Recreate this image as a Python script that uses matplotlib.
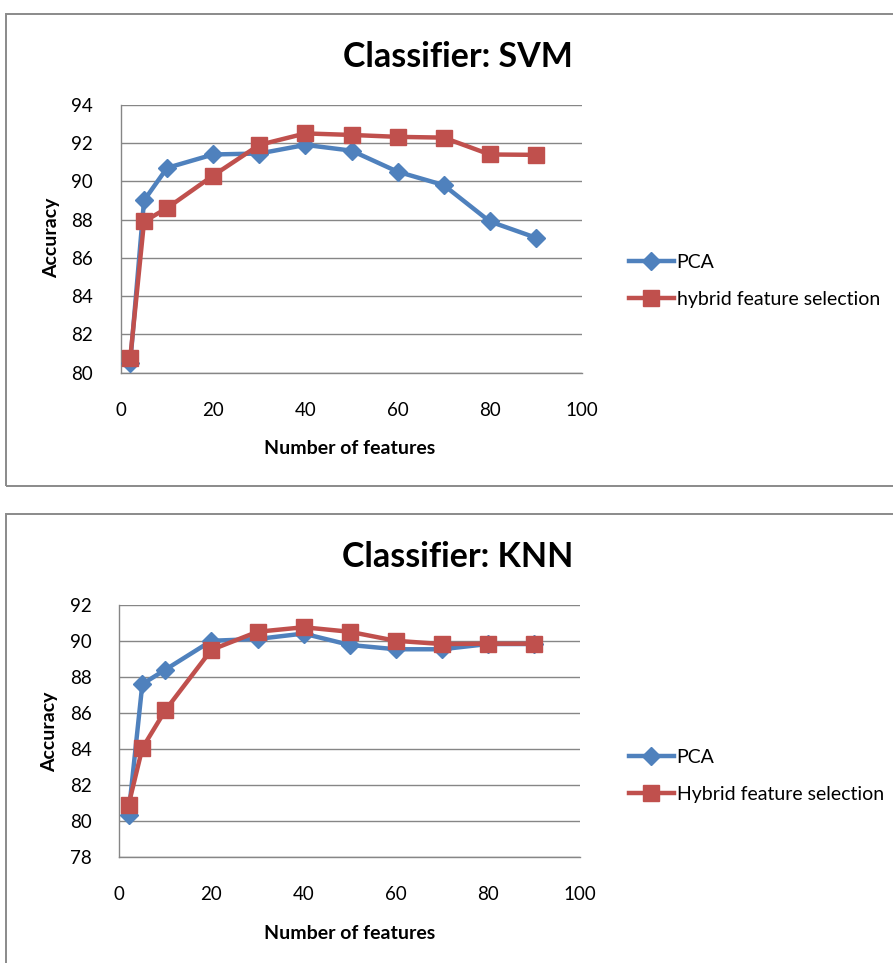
import numpy as np
import matplotlib
matplotlib.use("Agg")
import matplotlib.pyplot as plt
from matplotlib.patches import Rectangle

plt.rcParams['font.family'] = ['Lato', 'DejaVu Sans']

# ---- data ----
n_features = [2, 5, 10, 20, 30, 40, 50, 60, 70, 80, 90]

svm_pca = [80.5, 89.0, 90.7, 91.4, 91.45, 91.9, 91.6, 90.5, 89.8, 87.9, 87.05]
svm_hybrid = [80.75, 87.9, 88.6, 90.3, 91.9, 92.5, 92.42, 92.32, 92.28, 91.4, 91.38]

knn_pca = [80.35, 87.6, 88.4, 90.0, 90.1, 90.4, 89.77, 89.53, 89.53, 89.82, 89.82]
knn_hybrid = [80.9, 84.05, 86.15, 89.5, 90.5, 90.75, 90.5, 90.0, 89.82, 89.84, 89.84]

svm_yticks = [80, 82, 84, 86, 88, 90, 92, 94]
knn_yticks = [78, 80, 82, 84, 86, 88, 90, 92]
xticks = [0, 20, 40, 60, 80, 100]

BLUE = '#4F81BD'
RED = '#C0504D'
GRID = '#868686'

W, H = 893, 963
fig = plt.figure(figsize=(W / 100, H / 100), dpi=100)


def px_axes(left, top, right, bottom):
    # pixel box -> figure fraction
    return fig.add_axes([left / W, 1 - bottom / H, (right - left) / W, (bottom - top) / H])


def panel_frame(top, bottom):
    fig.patches.append(Rectangle((6 / W, 1 - bottom / H), 2.0, (bottom - top) / H,
                                 transform=fig.transFigure, fill=False,
                                 edgecolor='#8a8a8a', linewidth=1.4))


def draw_panel(ax, pca, hybrid, yticks, title, hyb_label, title_y, leg_y, xlab_y, ylab_x, ylab_y):
    ax.plot(n_features, pca, color=BLUE, lw=3.2, marker='D', ms=9, label='PCA', zorder=3)
    ax.plot(n_features, hybrid, color=RED, lw=3.2, marker='s', ms=11, label=hyb_label, zorder=4)
    ax.set_xlim(0, 100)
    ax.set_ylim(yticks[0], yticks[-1])
    ax.set_xticks(xticks)
    ax.set_yticks(yticks)
    ax.tick_params(length=0, labelsize=13.5, colors='black')
    ax.tick_params(axis='x', pad=21)
    ax.tick_params(axis='y', pad=20)
    ax.grid(axis='y', color=GRID, lw=1)
    ax.set_axisbelow(True)
    for s in ['top', 'right']:
        ax.spines[s].set_visible(False)
    for s in ['left', 'bottom']:
        ax.spines[s].set_color(GRID)
        ax.spines[s].set_linewidth(1)
    fig.text(458 / W, 1 - title_y / H, title, ha='center', va='center',
             fontsize=24.5, fontweight='bold')
    fig.text(350 / W, 1 - xlab_y / H, 'Number of features', ha='center', va='center',
             fontsize=14, fontweight='bold')
    fig.text(ylab_x / W, 1 - ylab_y / H, 'Accuracy', ha='center', va='center',
             rotation=90, fontsize=14, fontweight='bold')
    ax.legend(loc='center left', bbox_to_anchor=(629 / W, 1 - leg_y / H),
              bbox_transform=fig.transFigure, frameon=False, fontsize=14,
              handlelength=2.3, handletextpad=0.15, labelspacing=1.0,
              borderaxespad=0, borderpad=0)


panel_frame(14, 486)
panel_frame(514, 990)

ax1 = px_axes(121, 104.7, 582, 372.7)
draw_panel(ax1, svm_pca, svm_hybrid, svm_yticks, 'Classifier: SVM',
           'hybrid feature selection', 57, 281, 448, 52, 238)

ax2 = px_axes(119.3, 604.7, 580, 857.3)
draw_panel(ax2, knn_pca, knn_hybrid, knn_yticks, 'Classifier: KNN',
           'Hybrid feature selection', 557, 776, 933, 50, 732)

fig.savefig('out.png', dpi=100, facecolor='white')
